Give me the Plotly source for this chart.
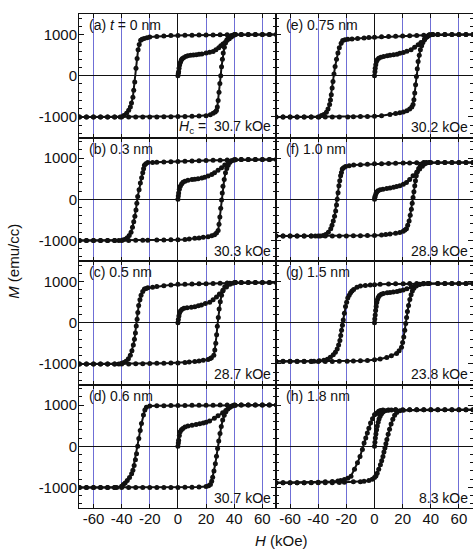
import plotly.graph_objects as go
from plotly.subplots import make_subplots

# ---- hysteresis loops M(H): field in kOe, magnetization in emu/cc ----
# Each branch is a list of (H, M) points: descending, ascending, initial (virgin).

a_down = [(70, 1000), (65, 1000), (60, 1000), (55, 1000), (50, 1000), (45, 1000), (40, 1000), (35, 998), (30, 995),
          (25, 992), (20, 990), (15, 987), (10, 985), (5, 982), (0, 980), (-5, 975), (-10, 965), (-15, 955), (-20, 940),
          (-22, 925), (-24, 905), (-25.5, 885), (-26.5, 860), (-27.5, 760), (-28.3, 630), (-29, 420), (-29.8, 180),
          (-30.7, -150), (-31.4, -350), (-32, -520), (-33, -660), (-33.8, -760), (-35, -840), (-36.5, -910),
          (-38.5, -965), (-41, -1000), (-45, -1000), (-50, -1000), (-55, -1000), (-60, -1000), (-65, -1000), (-70, -1000)]
a_up = [(-70, -1000), (-65, -1000), (-60, -1000), (-55, -1000), (-50, -1000), (-45, -1000), (-40, -1000), (-35, -1000),
        (-30, -1000), (-25, -1000), (-20, -1000), (-15, -1000), (-10, -998), (-5, -995), (0, -992), (5, -990), (10, -985),
        (15, -980), (20, -970), (23, -950), (25, -910), (26.5, -880), (27.4, -845), (28, -760), (28.6, -600),
        (29.2, -400), (29.8, -190), (30.4, 0), (31, 220), (31.6, 400), (32.2, 550), (33, 690), (33.8, 795), (34.7, 870),
        (35.7, 918), (37, 955), (38, 975), (40.5, 1000), (45, 1000), (50, 1000), (55, 1000), (60, 1000), (65, 1000),
        (70, 1000)]
a_init = [(0, 0), (0.3, 60), (0.5, 100), (0.8, 180), (1.2, 260), (1.8, 330), (2.4, 385), (3, 415), (4, 440), (5.5, 465),
          (7, 485), (9, 495), (11, 503), (13, 510), (15, 520), (17, 530), (20, 550), (22.5, 570), (25, 590), (27, 630),
          (29, 680), (30.5, 730), (32, 770), (33.5, 810), (35, 860), (36.5, 900), (38, 940), (39.5, 975), (41, 1000)]

b_down = [(70, 965), (65, 965), (60, 965), (55, 965), (50, 965), (45, 963), (40, 960), (35, 955), (30, 950), (25, 945),
          (20, 940), (15, 935), (10, 928), (5, 921), (0, 915), (-5, 910), (-10, 905), (-15, 900), (-18, 895),
          (-21.4, 890), (-22.8, 860), (-23.8, 826), (-24.4, 740), (-25, 645), (-25.8, 520), (-26.7, 397), (-27.6, 230),
          (-28.6, 66), (-29.2, -100), (-29.8, -264), (-30.6, -410), (-31.4, -545), (-32.3, -680), (-33.3, -800),
          (-34.6, -880), (-36, -934), (-37.5, -970), (-39.3, -990), (-42, -1000), (-45, -1000), (-50, -1000),
          (-55, -1000), (-60, -1000), (-65, -1000), (-70, -1000)]
b_up = [(-70, -1000), (-65, -1000), (-60, -1000), (-55, -1000), (-50, -1000), (-45, -1000), (-40, -1000), (-35, -1000),
        (-30, -998), (-25, -996), (-21.4, -993), (-15, -990), (-10, -988), (-5, -985), (0, -983), (5, -975), (8, -965),
        (12, -950), (15, -940), (18, -925), (21.4, -909), (24, -885), (26, -860), (27.4, -820), (28.6, -760),
        (29.2, -610), (29.8, -430), (30.4, -220), (31, -17), (31.5, 150), (32, 314), (32.9, 480), (33.8, 645),
        (34.7, 745), (35.7, 826), (36.8, 890), (38, 934), (40.5, 960), (45, 965), (50, 965), (55, 965), (60, 965),
        (65, 965), (70, 965)]
b_init = [(0, 0), (0.3, 80), (0.5, 150), (1, 240), (1.7, 314), (2.6, 370), (3.6, 413), (5, 440), (7.1, 463), (10, 480),
          (12, 488), (14.3, 496), (17, 515), (19, 535), (21.4, 562), (24, 600), (26, 645), (28.5, 705), (31, 768),
          (33.3, 830), (35.7, 893), (37.5, 925), (39.3, 950), (41, 962)]

c_down = [(70, 975), (65, 975), (60, 975), (55, 975), (50, 975), (45, 975), (40.5, 975), (35, 968), (30, 960), (25, 955),
          (20, 950), (15, 945), (10, 940), (5, 937), (0, 933), (-5, 920), (-10, 900), (-15, 880), (-18, 865),
          (-21.4, 850), (-22.6, 835), (-23.8, 817), (-25, 760), (-26.2, 667), (-27, 560), (-27.9, 417), (-28.5, 250),
          (-29, 83), (-29.6, -80), (-30.2, -250), (-30.9, -400), (-31.7, -542), (-32.7, -680), (-33.8, -792),
          (-35.2, -875), (-36.9, -933), (-38.5, -965), (-40, -983), (-42, -1000), (-45, -1000), (-50, -1000),
          (-55, -1000), (-60, -1000), (-65, -1000), (-70, -1000)]
c_up = [(-70, -1000), (-65, -1000), (-60, -1000), (-55, -1000), (-50, -1000), (-45, -1000), (-40, -1000), (-35, -1000),
        (-30, -998), (-25, -995), (-20, -990), (-15, -985), (-10, -982), (-5, -978), (0, -975), (5, -965), (8, -955),
        (12, -942), (15, -930), (18, -912), (21.4, -892), (23, -870), (23.8, -850), (25.5, -792), (26.2, -660),
        (26.9, -500), (27.5, -290), (28, -83), (28.7, 130), (29.3, 333), (30.1, 510), (31, 667), (32, 780),
        (33.3, 875), (35, 930), (36.9, 958), (40.5, 975), (45, 975), (50, 975), (55, 975), (60, 975), (65, 975),
        (70, 975)]
c_init = [(0, 0), (0.3, 80), (0.7, 167), (1.2, 240), (1.9, 292), (3, 330), (4.3, 350), (6.5, 365), (9.5, 375),
          (12, 390), (14.5, 410), (16.7, 433), (19.5, 465), (22.6, 500), (25, 560), (27.4, 625), (29.5, 700),
          (32, 792), (34.5, 870), (36.9, 933), (39, 960), (41, 975)]

d_down = [(70, 1000), (65, 1000), (60, 1000), (55, 1000), (50, 1000), (45, 1000), (40, 1000), (35, 1000), (30, 1000),
          (25, 998), (20, 997), (15, 995), (10, 993), (5, 990), (0, 988), (-5, 987), (-10, 985), (-15, 983),
          (-20, 980), (-22.4, 947), (-23.5, 882), (-24.5, 760), (-25.9, 555), (-26.8, 380), (-27.8, 188), (-28.6, 0),
          (-29.4, -180), (-30.2, -330), (-31.1, -465), (-32, -580), (-32.9, -670), (-34.4, -760), (-36, -833),
          (-37.5, -890), (-38.8, -931), (-40, -971), (-43.5, -1000), (-45, -1000), (-50, -1000), (-55, -1000),
          (-60, -1000), (-65, -1000), (-70, -1000)]
d_up = [(-70, -1000), (-65, -1000), (-60, -1000), (-55, -1000), (-50, -1000), (-45, -1000), (-40, -1000), (-35, -1000),
        (-30, -1000), (-25, -1000), (-20, -1000), (-15, -1000), (-10, -1000), (-5, -1000), (0, -1000), (5, -998),
        (10, -995), (15, -992), (20, -980), (21.8, -960), (23.1, -931), (24, -850), (24.7, -751), (25.6, -600),
        (26.6, -424), (27.4, -240), (28.2, -57), (29, 130), (29.9, 310), (30.8, 480), (31.8, 637), (32.9, 750),
        (34.1, 841), (35.5, 905), (36.9, 947), (38.5, 975), (40.7, 996), (45, 1000), (50, 1000), (55, 1000),
        (60, 1000), (65, 1000), (70, 1000)]
d_init = [(0, 0), (0.3, 80), (0.5, 147), (1, 260), (1.6, 351), (2.5, 400), (3.5, 433), (5, 465), (7.1, 490), (10, 512),
          (12.9, 531), (15.5, 548), (18, 565), (20, 580), (22.5, 615), (25.9, 678), (28.5, 740), (31.8, 816),
          (34, 870), (36.5, 939), (38.5, 975), (40.5, 996)]

e_down = [(70, 1000), (65, 1000), (60, 1000), (55, 1000), (50, 1000), (45, 1000), (41, 1000), (39, 995), (35, 985),
          (30, 978), (25, 972), (20, 968), (15, 960), (10, 952), (5, 945), (0, 935), (-4, 928), (-7.4, 920),
          (-12, 905), (-16, 895), (-19, 887), (-21, 872), (-22.6, 855), (-23.7, 790), (-25, 680), (-26, 550),
          (-27, 400), (-28, 225), (-28.8, 40), (-29.5, -137), (-30.1, -300), (-30.7, -460), (-31.3, -590),
          (-31.9, -700), (-33, -810), (-34.2, -887), (-36, -940), (-37.7, -968), (-39.5, -1000), (-45, -1000),
          (-50, -1000), (-55, -1000), (-60, -1000), (-65, -1000), (-70, -1000)]
e_up = [(-70, -1000), (-65, -1000), (-60, -1000), (-55, -1000), (-50, -1000), (-45, -1000), (-40, -1000), (-35, -1000),
        (-30, -1000), (-25, -1000), (-19, -1000), (-15, -995), (-10, -992), (-5, -988), (0, -984), (5, -970),
        (11, -944), (15, -920), (18, -900), (20.5, -880), (23, -850), (25, -806), (26.5, -760), (27.4, -700),
        (28, -580), (28.6, -420), (29.2, -220), (29.8, -16), (30.4, 170), (31, 347), (31.8, 500), (32.6, 630),
        (33.5, 730), (34.4, 806), (35.5, 875), (36.7, 927), (38, 970), (39, 992), (41.4, 1000), (45, 1000),
        (50, 1000), (55, 1000), (60, 1000), (65, 1000), (70, 1000)]
e_init = [(0, 0), (0.3, 100), (0.5, 185), (0.9, 270), (1.4, 347), (2, 390), (3, 427), (4.5, 450), (6.5, 468), (9, 485),
          (11, 495), (13.5, 508), (16, 525), (18, 545), (20.5, 565), (23, 595), (26, 629), (28.5, 690), (31, 750),
          (33, 810), (35.6, 887), (37.5, 945), (39, 984), (41.4, 1000)]

f_down = [(70, 894), (65, 894), (60, 894), (55, 894), (50, 894), (45, 894), (39, 894), (35, 890), (30, 886), (25, 882),
          (20.4, 878), (15, 873), (10, 868), (5, 865), (0, 862), (-5, 852), (-10, 840), (-14.8, 829), (-18, 812),
          (-20.6, 797), (-22, 765), (-22.9, 732), (-23.5, 650), (-24.1, 569), (-24.7, 450), (-25.3, 325), (-25.9, 160),
          (-26.5, 0), (-27, -140), (-27.6, -285), (-28.4, -410), (-29.3, -528), (-30.2, -630), (-31.1, -715),
          (-32.8, -800), (-34.7, -854), (-36.5, -880), (-38.6, -894), (-42, -894), (-45, -894), (-50, -894),
          (-55, -894), (-60, -894), (-65, -894), (-70, -894)]
f_up = [(-70, -894), (-65, -894), (-60, -894), (-55, -894), (-50, -894), (-45, -894), (-40, -894), (-35, -894),
        (-30, -894), (-25, -892), (-20, -890), (-15, -888), (-10, -885), (-5, -882), (0, -878), (5, -868), (8, -858),
        (11, -846), (15, -825), (18, -805), (20.4, -780), (21.6, -750), (22.7, -715), (23.6, -630), (24.6, -528),
        (25.4, -390), (26.2, -244), (26.8, -100), (27.4, 41), (28, 180), (28.6, 325), (29.1, 450), (29.7, 569),
        (30.5, 670), (31.4, 748), (32.5, 805), (33.7, 854), (35, 878), (36.8, 894), (40, 894), (45, 894), (50, 894),
        (55, 894), (60, 894), (65, 894), (70, 894)]
f_init = [(0, 0), (0.2, 40), (0.5, 81), (1, 135), (1.6, 179), (2.5, 205), (4, 228), (6, 245), (8.7, 260), (11, 275),
          (13.5, 292), (15.7, 309), (18, 330), (20.5, 365), (22.7, 407), (25, 480), (27.4, 569), (30, 655),
          (32.1, 732), (34, 800), (35.6, 854), (37, 880), (39, 894)]

g_down = [(70, 955), (65, 955), (60, 955), (55, 955), (50, 955), (45, 955), (39, 955), (35, 953), (30, 952), (25, 951),
          (20.4, 950), (15, 945), (10, 940), (4, 934), (0, 925), (-3, 917), (-6.5, 905), (-10, 893), (-12.5, 860),
          (-14.8, 810), (-16, 770), (-17, 727), (-18, 670), (-19, 603), (-19.8, 500), (-20.6, 397), (-21.4, 230),
          (-22.2, 66), (-22.8, -60), (-23.4, -182), (-24, -310), (-24.6, -430), (-25.5, -540), (-26.5, -636),
          (-27.8, -715), (-29.3, -777), (-31.4, -840), (-33.5, -884), (-36, -910), (-39.3, -926), (-43, -934),
          (-45, -934), (-50, -934), (-55, -934), (-60, -934), (-65, -934), (-70, -934)]
g_up = [(-70, -940), (-65, -940), (-60, -940), (-55, -940), (-50, -940), (-45, -940), (-40, -940), (-35, -940),
        (-30, -940), (-25, -937), (-19.4, -934), (-15, -930), (-10, -925), (-5, -915), (0, -900), (4, -880),
        (8.7, -843), (12, -800), (15.7, -744), (17.5, -680), (19.2, -595), (20, -480), (20.8, -347), (21.5, -180),
        (22.2, -17), (22.8, 130), (23.4, 273), (24.2, 420), (25.1, 562), (26, 680), (26.9, 769), (28, 840),
        (29.7, 893), (32, 930), (34.4, 950), (38, 955), (45, 955), (50, 955), (55, 955), (60, 955), (65, 955),
        (70, 955)]
g_init = [(0, 0), (0.2, 90), (0.5, 190), (0.8, 300), (1.2, 397), (1.6, 490), (2.1, 562), (2.7, 620), (3.5, 661),
          (4.8, 690), (6.3, 711), (9, 728), (11, 737), (13.3, 744), (16, 760), (18, 775), (20.4, 793), (23, 825),
          (26.2, 868), (29, 905), (32, 934), (35, 950), (38, 955)]

h_down = [(70, 885), (65, 885), (60, 885), (55, 885), (50, 885), (45, 885), (40, 885), (35, 885), (30, 885), (25, 885),
          (20, 885), (15, 884), (10, 882), (6, 878), (4.2, 870), (3, 850), (2, 815), (1, 790), (0, 766), (-1.4, 670),
          (-2.8, 565), (-4, 440), (-5.1, 323), (-6.2, 200), (-7.4, 81), (-8.6, -81), (-10.3, -250), (-12.1, -403),
          (-14.2, -560), (-16.7, -726), (-19, -780), (-21.4, -806), (-24, -830), (-26, -847), (-30, -858),
          (-35, -863), (-40, -875), (-45, -880), (-50, -885), (-55, -885), (-60, -885), (-65, -885), (-70, -885)]
h_up = [(-70, -885), (-65, -885), (-60, -885), (-55, -885), (-50, -885), (-45, -885), (-40, -885), (-35, -885),
        (-30, -885), (-25, -880), (-21.4, -875), (-15, -865), (-10, -860), (-7.4, -852), (-4, -835), (-1.6, -803),
        (0, -760), (1, -720), (1.9, -656), (3, -560), (4.2, -451), (5.1, -350), (6, -246), (6.7, -140), (7.4, -41),
        (8.1, 60), (8.8, 164), (9.7, 290), (10.7, 410), (11.8, 540), (13, 656), (14.3, 750), (15.8, 820),
        (18, 860), (20.5, 877), (25, 885), (30, 885), (35, 885), (40, 885), (45, 885), (50, 885), (55, 885),
        (60, 885), (65, 885), (70, 885)]
h_init = [(0, 0), (0.3, 100), (0.6, 200), (1, 300), (1.5, 400), (2, 490), (2.6, 580), (3.2, 660), (4, 730), (5, 790),
          (6, 830), (7.5, 860), (9.5, 875), (12, 882), (15, 885)]

panel_labels = ["(a) <i>t</i> = 0 nm", "(b) 0.3 nm", "(c) 0.5 nm", "(d) 0.6 nm",
                "(e) 0.75 nm", "(f) 1.0 nm", "(g) 1.5 nm", "(h) 1.8 nm"]
coercivity_labels = ["<i>H</i><sub>c</sub> =  30.7 kOe", "30.3 kOe", "28.7 kOe", "30.7 kOe",
                     "30.2 kOe", "28.9 kOe", "23.8 kOe", "8.3 kOe"]
loops = [(a_down, a_up, a_init), (b_down, b_up, b_init), (c_down, c_up, c_init), (d_down, d_up, d_init),
         (e_down, e_up, e_init), (f_down, f_up, f_init), (g_down, g_up, g_init), (h_down, h_up, h_init)]

x_ticks = [-60, -40, -20, 0, 20, 40, 60]
x_ticktext = ["-60", "-40", "-20", "0", "20", "40", "60"]
y_ticks = [-1000, 0, 1000]
y_ticktext = ["-1000", "0", "1000"]

FONT = "Liberation Sans, Arial, Helvetica, sans-serif"
INK = "#111111"
GRID_BLUE = "#6f6fd6"

fig = make_subplots(rows=4, cols=2, horizontal_spacing=0, vertical_spacing=0)

annotations = []
for idx, (branches, plabel, hlabel) in enumerate(zip(loops, panel_labels, coercivity_labels)):
    col = idx // 4 + 1
    row = idx % 4 + 1
    for branch in branches:
        hs = [p[0] for p in branch]
        ms = [p[1] for p in branch]
        fig.add_trace(go.Scatter(x=hs, y=ms, mode="lines+markers",
                                 line=dict(color=INK, width=2),
                                 marker=dict(color=INK, size=5),
                                 showlegend=False, hoverinfo="skip"),
                      row=row, col=col)
    n = (row - 1) * 2 + col
    suffix = "" if n == 1 else str(n)
    annotations.append(dict(text=plabel, xref=f"x{suffix} domain", yref=f"y{suffix} domain",
                            x=0.04, y=0.91, xanchor="left", yanchor="middle", showarrow=False,
                            font=dict(family=FONT, size=14, color=INK)))
    annotations.append(dict(text=hlabel, xref=f"x{suffix} domain", yref=f"y{suffix} domain",
                            x=0.985, y=0.085, xanchor="right", yanchor="middle", showarrow=False,
                            font=dict(family=FONT, size=14, color=INK)))

fig.update_xaxes(range=[-70, 70], tickmode="array", tickvals=x_ticks, ticktext=x_ticktext,
                 ticks="inside", ticklen=4, tickwidth=1, tickcolor=INK,
                 showline=True, linecolor=INK, linewidth=1, mirror="ticks",
                 showgrid=True, gridcolor=GRID_BLUE, gridwidth=1,
                 zeroline=True, zerolinecolor=INK, zerolinewidth=1.2,
                 showticklabels=False, ticklabelstandoff=-3,
                 tickfont=dict(family=FONT, size=15, color=INK))
# left column: nudge the scale so the grid lines sit on pixel centres
fig.update_xaxes(range=[-70.3, 69.7], col=1)
fig.update_xaxes(showticklabels=True, row=4)

fig.update_yaxes(range=[-1500, 1500], tickmode="array", tickvals=y_ticks, ticktext=y_ticktext,
                 ticks="inside", ticklen=5, tickwidth=1, tickcolor=INK,
                 minor=dict(tickmode="linear", tick0=0, dtick=200, ticks="inside", ticklen=3,
                            tickwidth=1, tickcolor=INK, showgrid=False),
                 showline=True, linecolor=INK, linewidth=1, mirror="ticks",
                 showgrid=False, zeroline=True, zerolinecolor=INK, zerolinewidth=1.2,
                 showticklabels=False, ticklabelstandoff=-2,
                 tickfont=dict(family=FONT, size=15, color=INK))
fig.update_yaxes(showticklabels=True, col=1)

annotations.append(dict(text="<i>M</i> (emu/cc)", xref="paper", yref="paper", x=-0.168, y=0.5,
                        xanchor="center", yanchor="middle", textangle=-90, showarrow=False,
                        font=dict(family=FONT, size=15, color=INK)))
annotations.append(dict(text="<i>H</i> (kOe)", xref="paper", yref="paper", x=0.513, y=-0.065,
                        xanchor="center", yanchor="middle", showarrow=False,
                        font=dict(family=FONT, size=15, color=INK)))

fig.update_layout(width=473, height=549, margin=dict(l=79, r=0, t=14, b=41),
                  paper_bgcolor="white", plot_bgcolor="white",
                  annotations=annotations, showlegend=False)

fig.write_html("out.html")
